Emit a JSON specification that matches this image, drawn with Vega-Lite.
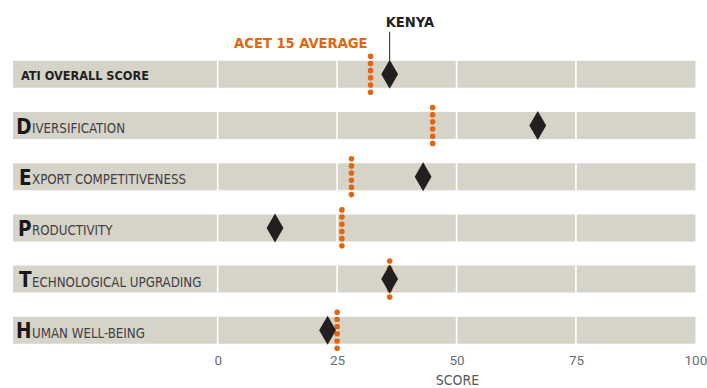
{
  "$schema": "https://vega.github.io/schema/vega-lite/v6.json",
  "width": 682.4,
  "height": 307.2,
  "autosize": {"type": "none"},
  "padding": {"left": 13, "top": 48.7, "right": 11.6, "bottom": 32.1},
  "background": "white",
  "config": {
    "view": {"stroke": null},
    "font": "DejaVu Sans Condensed, DejaVu Sans, sans-serif"
  },
  "datasets": {
    "scores": [
      {"dimension": "ATI OVERALL SCORE", "kind": "overall", "lead": "", "tail": "", "kenya": 36, "acet": 32},
      {"dimension": "DIVERSIFICATION", "kind": "pillar", "lead": "D", "tail": "IVERSIFICATION", "kenya": 67, "acet": 45},
      {"dimension": "EXPORT COMPETITIVENESS", "kind": "pillar", "lead": "E", "tail": "XPORT COMPETITIVENESS", "kenya": 43, "acet": 28},
      {"dimension": "PRODUCTIVITY", "kind": "pillar", "lead": "P", "tail": "RODUCTIVITY", "kenya": 12, "acet": 26},
      {"dimension": "TECHNOLOGICAL UPGRADING", "kind": "pillar", "lead": "T", "tail": "ECHNOLOGICAL UPGRADING", "kenya": 36, "acet": 36},
      {"dimension": "HUMAN WELL-BEING", "kind": "pillar", "lead": "H", "tail": "UMAN WELL-BEING", "kenya": 23, "acet": 25}
    ],
    "gridlines": [{"tick": 0}, {"tick": 25}, {"tick": 50}, {"tick": 75}]
  },
  "data": {"name": "scores"},
  "resolve": {"scale": {"x": "shared", "y": "shared"}},
  "layer": [
    {
      "mark": {"type": "bar", "color": "#d6d3c9", "height": {"band": 0.527}},
      "encoding": {
        "y": {"field": "dimension", "type": "nominal", "sort": null,
              "scale": {"paddingInner": 0, "paddingOuter": 0}, "axis": null},
        "x": {"datum": -42.85, "type": "quantitative"},
        "x2": {"datum": 100}
      }
    },
    {
      "data": {"name": "gridlines"},
      "mark": {"type": "rule", "color": "white", "strokeWidth": 1.6},
      "encoding": {
        "x": {"field": "tick", "type": "quantitative"}
      }
    },
    {
      "transform": [{"filter": "datum.kind == 'overall'"}],
      "mark": {"type": "text", "align": "left", "baseline": "alphabetic", "dy": 5.4,
               "fontSize": 12.6, "fontWeight": "bold", "color": "#231f20"},
      "encoding": {
        "y": {"field": "dimension", "type": "nominal", "sort": null},
        "x": {"value": 8},
        "text": {"field": "dimension"}
      }
    },
    {
      "transform": [{"filter": "datum.kind == 'pillar'"}],
      "mark": {"type": "text", "align": "right", "baseline": "alphabetic", "dy": 8,
               "fontSize": 20.5, "fontWeight": "bold", "color": "#1a1718"},
      "encoding": {
        "y": {"field": "dimension", "type": "nominal", "sort": null},
        "x": {"value": 18.5},
        "text": {"field": "lead"}
      }
    },
    {
      "transform": [{"filter": "datum.kind == 'pillar'"}],
      "mark": {"type": "text", "align": "left", "baseline": "alphabetic", "dy": 7.5,
               "fontSize": 13.2, "color": "#414042"},
      "encoding": {
        "y": {"field": "dimension", "type": "nominal", "sort": null},
        "x": {"value": 19},
        "text": {"field": "tail"}
      }
    },
    {
      "mark": {"type": "rule", "color": "#e2650f", "strokeWidth": 5.6, "strokeCap": "round",
               "strokeDash": [0.01, 7.17], "yOffset": -18, "y2Offset": 18.3},
      "encoding": {
        "y": {"field": "dimension", "type": "nominal", "sort": null},
        "y2": {"field": "dimension"},
        "x": {"field": "acet", "type": "quantitative"}
      }
    },
    {
      "transform": [{"filter": "datum.kind == 'overall'"}],
      "mark": {"type": "rule", "color": "#231f20", "strokeWidth": 1, "yOffset": -42.6, "y2Offset": -14},
      "encoding": {
        "y": {"field": "dimension", "type": "nominal", "sort": null},
        "y2": {"field": "dimension"},
        "x": {"field": "kenya", "type": "quantitative"}
      }
    },
    {
      "mark": {"type": "point", "shape": "M0,-1L0.58,0L0,1L-0.58,0Z", "size": 841,
               "filled": true, "color": "#231f20", "opacity": 1},
      "encoding": {
        "y": {"field": "dimension", "type": "nominal", "sort": null},
        "x": {"field": "kenya", "type": "quantitative",
              "scale": {"domain": [-42.85, 100], "nice": false, "zero": false},
              "axis": {"values": [0, 25, 50, 75, 100], "grid": false, "domain": false,
                       "ticks": false, "tickSize": 0, "labelPadding": 9,
                       "labelBaseline": "alphabetic", "labelFontSize": 13.5,
                       "labelColor": "#6d6e71", "labelFont": "Roboto, Liberation Sans, sans-serif",
                       "title": "SCORE", "titleFontSize": 14, "titleFontWeight": "normal",
                       "titleFont": "DejaVu Sans Condensed, DejaVu Sans, sans-serif",
                       "titleColor": "#58595b", "titleX": 444, "titleY": 29,
                       "titleAlign": "center", "titleBaseline": "alphabetic",
                       "labelFlush": false, "labelOverlap": false}}
      }
    },
    {
      "transform": [{"filter": "datum.kind == 'overall'"}],
      "mark": {"type": "text", "align": "left", "baseline": "alphabetic", "dx": -4, "dy": -47.6,
               "fontSize": 14.6, "fontWeight": "bold", "color": "#231f20"},
      "encoding": {
        "y": {"field": "dimension", "type": "nominal", "sort": null},
        "x": {"field": "kenya", "type": "quantitative"},
        "text": {"value": "KENYA"}
      }
    },
    {
      "transform": [{"filter": "datum.kind == 'overall'"}],
      "mark": {"type": "text", "align": "right", "baseline": "alphabetic", "dx": -3, "dy": -26.3,
               "fontSize": 14.6, "fontWeight": "bold", "color": "#e2650f"},
      "encoding": {
        "y": {"field": "dimension", "type": "nominal", "sort": null},
        "x": {"field": "acet", "type": "quantitative"},
        "text": {"value": "ACET 15 AVERAGE"}
      }
    }
  ]
}
